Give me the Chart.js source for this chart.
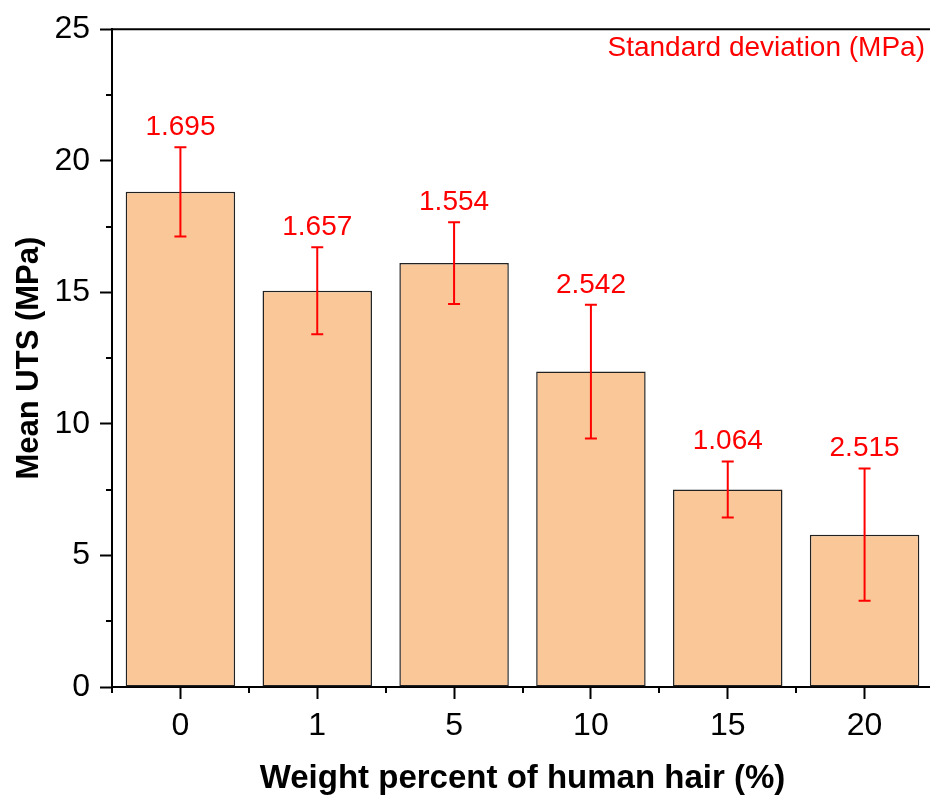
<!DOCTYPE html>
<html>
<head>
<meta charset="utf-8">
<script src="https://cdn.jsdelivr.net/npm/chart.js@4.4.1/dist/chart.umd.min.js"></script>
<style>
  html, body { margin: 0; padding: 0; background: #fff; overflow: hidden; }
  #wrap { position: absolute; left: 0; top: 0; }
</style>
</head>
<body>
<div id="wrap"><canvas id="barChart" width="936" height="803"></canvas></div>
<script>
// chart values
var categories = ['0', '1', '5', '10', '15', '20'];
var meanUts = [18.82, 15.06, 16.11, 11.99, 7.51, 5.79];
var stdDev = [1.695, 1.657, 1.554, 2.542, 1.064, 2.515];
var yTicks = [0, 5, 10, 15, 20, 25];

var fontFam = "'Liberation Sans', Arial, sans-serif";
var red = '#ff0000';

// error bars, sd labels, top frame line, minor ticks, note
var extras = {
  id: 'extras',
  afterDatasetsDraw: function (chart) {
    var ctx = chart.ctx;
    var x = chart.scales.x, y = chart.scales.y;
    var area = chart.chartArea;
    ctx.save();

    // error bars
    ctx.strokeStyle = red;
    ctx.lineWidth = 2;
    ctx.fillStyle = red;
    ctx.font = '28px ' + fontFam;
    ctx.textAlign = 'center';
    ctx.textBaseline = 'alphabetic';
    for (var i = 0; i < meanUts.length; i++) {
      var px = x.getPixelForValue(i);
      var hi = y.getPixelForValue(meanUts[i] + stdDev[i]);
      var lo = y.getPixelForValue(meanUts[i] - stdDev[i]);
      ctx.beginPath();
      ctx.moveTo(px, hi); ctx.lineTo(px, lo);
      ctx.moveTo(px - 6, hi); ctx.lineTo(px + 6, hi);
      ctx.moveTo(px - 6, lo); ctx.lineTo(px + 6, lo);
      ctx.stroke();
      ctx.fillText(stdDev[i].toFixed(3), px, hi - 12);
    }

    // top frame line
    ctx.strokeStyle = '#000';
    ctx.lineWidth = 2;
    ctx.beginPath();
    ctx.moveTo(area.left - 1, area.top);
    ctx.lineTo(area.right, area.top);
    ctx.stroke();

    // minor ticks on y
    ctx.beginPath();
    for (var v = 2.5; v < 25; v += 5) {
      var py = Math.round(y.getPixelForValue(v));
      ctx.moveTo(area.left - 6, py);
      ctx.lineTo(area.left, py);
    }
    // minor ticks on x at category edges
    var step = x.getPixelForValue(1) - x.getPixelForValue(0);
    for (var j = 0; j <= categories.length; j++) {
      var bx = Math.round(x.getPixelForValue(0) - step / 2 + j * step);
      ctx.moveTo(bx, area.bottom);
      ctx.lineTo(bx, area.bottom + 6);
    }
    ctx.stroke();

    // note in the corner
    ctx.fillStyle = red;
    ctx.font = '28px ' + fontFam;
    ctx.textAlign = 'right';
    ctx.textBaseline = 'middle';
    ctx.fillText('Standard deviation (MPa)', 925, 48);

    ctx.restore();
  }
};

var barChartCanvas = document.getElementById('barChart').getContext('2d');

var barChart = new Chart(barChartCanvas, {
  type: 'bar',
  data: {
    labels: categories,
    datasets: [{
      label: 'Mean UTS',
      data: meanUts,
      backgroundColor: 'rgb(250,200,152)',
      borderColor: '#222222',
      borderWidth: 1.5,
      borderSkipped: false,
      barPercentage: 0.8,
      categoryPercentage: 1.0
    }]
  },
  options: {
    responsive: false,
    animation: false,
    layout: { padding: { top: 26, right: 3, left: 0, bottom: 0 } },
    plugins: {
      legend: { display: false },
      tooltip: { enabled: false }
    },
    scales: {
      x: {
        offset: true,
        grid: {
          display: true,
          drawOnChartArea: false,
          drawTicks: true,
          tickLength: 12,
          tickWidth: 2,
          tickColor: '#000',
          offset: false
        },
        border: { display: true, color: '#000', width: 2 },
        ticks: {
          color: '#000',
          padding: 8,
          font: { family: fontFam, size: 32 }
        },
        title: {
          display: true,
          text: 'Weight percent of human hair (%)',
          color: '#000',
          padding: { top: 0, bottom: 4 },
          font: { family: fontFam, size: 33, weight: 'bold' }
        },
        afterFit: function (scale) { scale.height = 116; }
      },
      y: {
        min: 0,
        max: 25,
        afterBuildTicks: function (scale) {
          scale.ticks = yTicks.map(function (v) { return { value: v }; });
        },
        grid: {
          display: true,
          drawOnChartArea: false,
          drawTicks: true,
          tickLength: 12,
          tickWidth: 2,
          tickColor: '#000'
        },
        border: { display: true, color: '#000', width: 2 },
        ticks: {
          color: '#000',
          padding: 10,
          font: { family: fontFam, size: 32 }
        },
        title: {
          display: true,
          text: 'Mean UTS (MPa)',
          color: '#000',
          padding: { top: 11, bottom: 0 },
          font: { family: fontFam, size: 31, weight: 'bold' }
        },
        afterFit: function (scale) { scale.width = 112; }
      }
    }
  },
  plugins: [extras]
});
</script>
</body>
</html>
